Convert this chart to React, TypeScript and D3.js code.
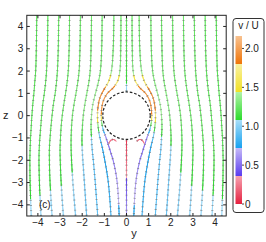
import React, { useEffect, useRef } from "react";
import * as d3 from "d3";

const W = 266;
const H = 242;
const X_TICKS = [-4, -3, -2, -1, 0, 1, 2, 3, 4];
const Z_TICKS = [-4, -3, -2, -1, 0, 1, 2, 3, 4];
const CB_TICKS = [0, 0.5, 1.0, 1.5, 2.0];
const CB_LABELS = ["0", "0.5", "1.0", "1.5", "2.0"];
const CB_MAX = 2.16;
const BAND_EDGES = [0, 0.36, 0.72, 1.08, 1.44, 1.8, 2.16];
const BAND_LOW = ["#e5203f", "#5a3cf0", "#18a2f0", "#2cdc2c", "#f2e024", "#f07408"];
const BAND_HIGH = ["#f6a2b0", "#c6baf6", "#a8def8", "#b2f2aa", "#f8f0a2", "#f8c290"];
const SPHERE_R = 1.07;

type P = [number, number, number]; // [y, z, v/U]

// streamlines right of the axis (mirrored to the left)
const LINE_1: P[] = [[0.25, 4.5, 1.25], [0.26, 3, 1.25], [0.3, 2, 1.35], [0.4, 1.55, 1.6], [0.6, 1.25, 1.85], [0.86, 1.0, 1.95], [1.05, 0.65, 2.0], [1.13, 0.2, 1.95], [1.13, -0.2, 1.5], [1.06, -0.6, 0.9], [0.92, -1.0, 0.55], [0.76, -1.5, 0.5], [0.58, -2.1, 0.55], [0.42, -3, 0.65], [0.33, -4.5, 0.75]];
const LINE_2: P[] = [[0.57, 4.5, 1.25], [0.6, 3, 1.25], [0.68, 2, 1.35], [0.8, 1.55, 1.6], [1.0, 1.2, 1.85], [1.2, 0.8, 1.95], [1.29, 0.35, 1.9], [1.31, 0, 1.7], [1.29, -0.4, 1.35], [1.22, -0.9, 0.95], [1.1, -1.4, 0.75], [0.98, -2, 0.72], [0.82, -3, 0.78], [0.7, -4.5, 0.85]];
const LINE_3: P[] = [[1.1, 4.5, 1.25], [1.12, 3, 1.25], [1.18, 2, 1.28], [1.27, 1.5, 1.33], [1.4, 1, 1.38], [1.52, 0.5, 1.42], [1.58, 0, 1.4], [1.6, -0.5, 1.25], [1.58, -1, 1.05], [1.55, -1.5, 0.95], [1.5, -2, 0.92], [1.41, -3, 0.9], [1.3, -4.5, 0.9]];
const LINE_4: P[] = [[1.58, 4.5, 1.25], [1.6, 3, 1.25], [1.64, 2, 1.27], [1.7, 1.5, 1.3], [1.79, 1, 1.33], [1.88, 0.5, 1.35], [1.95, 0, 1.33], [1.99, -0.5, 1.25], [2.01, -1, 1.15], [2.0, -1.5, 1.05], [1.97, -2, 1.0], [1.9, -3, 0.95], [1.8, -4.5, 0.92]];
const LINE_5: P[] = [[2.08, 4.5, 1.25], [2.1, 3, 1.25], [2.14, 2, 1.26], [2.2, 1.5, 1.28], [2.28, 1, 1.3], [2.37, 0.5, 1.3], [2.44, 0, 1.28], [2.48, -0.5, 1.25], [2.5, -1, 1.2], [2.5, -1.5, 1.16], [2.48, -2, 1.12], [2.42, -3, 1.05], [2.3, -4.5, 0.97]];
const LINE_6: P[] = [[2.57, 4.5, 1.25], [2.59, 3, 1.25], [2.63, 2, 1.25], [2.68, 1.5, 1.26], [2.75, 1, 1.27], [2.83, 0.5, 1.27], [2.9, 0, 1.26], [2.95, -0.5, 1.24], [2.98, -1, 1.22], [3.0, -1.5, 1.19], [2.99, -2, 1.16], [2.95, -3, 1.09], [2.85, -4.5, 1.0]];
const LINE_7: P[] = [[3.06, 4.5, 1.24], [3.08, 3, 1.24], [3.12, 2, 1.24], [3.16, 1.5, 1.25], [3.22, 1, 1.25], [3.3, 0.5, 1.26], [3.36, 0, 1.25], [3.41, -0.5, 1.24], [3.45, -1, 1.22], [3.48, -1.5, 1.2], [3.48, -2, 1.17], [3.45, -3, 1.1], [3.36, -4.5, 1.02]];
const LINE_8: P[] = [[3.55, 4.5, 1.22], [3.57, 3, 1.22], [3.61, 2, 1.22], [3.65, 1.5, 1.23], [3.71, 1, 1.24], [3.78, 0.5, 1.24], [3.83, 0, 1.24], [3.87, -0.5, 1.23], [3.91, -1, 1.22], [3.94, -1.5, 1.2], [3.95, -2, 1.18], [3.93, -3, 1.11], [3.86, -4.5, 1.03]];
const LINE_9: P[] = [[4.05, 4.5, 1.2], [4.07, 3, 1.2], [4.1, 2, 1.2], [4.14, 1.5, 1.21], [4.18, 1, 1.22], [4.23, 0.5, 1.22], [4.27, 0, 1.22], [4.3, -0.5, 1.22], [4.33, -1, 1.21], [4.35, -1.5, 1.2], [4.36, -2, 1.18], [4.35, -3, 1.12], [4.3, -4.5, 1.04]];
const RIGHT_LINES = [LINE_1, LINE_2, LINE_3, LINE_4, LINE_5, LINE_6, LINE_7, LINE_8, LINE_9];

const AXIS_TOP: P[] = [[0, 4.5, 1.22], [0, 3, 1.2], [0, 2, 1.15], [0, 1.5, 1.1], [0, 1.08, 1.0]];
const AXIS_BOTTOM: P[] = [[0, -1.08, 0.05], [0, -2, 0.2], [0, -3, 0.4], [0, -4.5, 0.65]];
const EDDY_LEFT: P[] = [[-0.8, -1.24, 0.25], [-0.7, -1.1, 0.2], [-0.58, -1.07, 0.2], [-0.47, -1.14, 0.25]];
const EDDY_RIGHT: P[] = [[0.47, -1.14, 0.25], [0.58, -1.07, 0.2], [0.7, -1.1, 0.2], [0.8, -1.24, 0.25]];

const FONT = "'Liberation Sans', Arial, sans-serif";

const x = d3.scaleLinear().domain([-4.5, 4.5]).range([26.8, 226.2]);
const y = d3.scaleLinear().domain([-4.5, 4.5]).range([216, 15.3]);
const cb = d3.scaleLinear().domain([0, CB_MAX]).range([204, 36]);

function colorOf(v: number): string {
  const i = Math.max(0, Math.min(5, Math.floor(v / 0.36)));
  const t = Math.max(0, Math.min(1, (v - BAND_EDGES[i]) / 0.36));
  return d3.interpolateRgb(BAND_LOW[i], BAND_HIGH[i])(t);
}

function StreamLayer() {
  const ref = useRef<SVGGElement>(null);
  useEffect(() => {
    const g = d3.select(ref.current);
    g.selectAll("*").remove();
    const lines: P[][] = [];
    RIGHT_LINES.forEach((l) => {
      lines.push(l);
      lines.push(l.map((p) => [-p[0], p[1], p[2]] as P));
    });
    lines.push(AXIS_TOP, AXIS_BOTTOM, EDDY_LEFT, EDDY_RIGHT);
    const gen = d3
      .line<P>()
      .x((p) => x(p[0]))
      .y((p) => y(p[1]))
      .curve(d3.curveCatmullRom.alpha(0.5));
    lines.forEach((pts) => {
      const d = gen(pts) as string;
      const path = g.append("path").attr("d", d).attr("fill", "none").attr("stroke", "none");
      const node = path.node() as SVGPathElement;
      const L = node.getTotalLength();
      const cum: number[] = [0];
      for (let i = 1; i < pts.length; i++) {
        const dx = x(pts[i][0]) - x(pts[i - 1][0]);
        const dy = y(pts[i][1]) - y(pts[i - 1][1]);
        cum.push(cum[i - 1] + Math.hypot(dx, dy));
      }
      const P = cum[cum.length - 1];
      const valAt = (s: number) => {
        const q = (s / L) * P;
        let k = 1;
        while (k < cum.length - 1 && cum[k] < q) k++;
        const t = (q - cum[k - 1]) / (cum[k] - cum[k - 1] || 1);
        return pts[k - 1][2] + (pts[k][2] - pts[k - 1][2]) * Math.max(0, Math.min(1, t));
      };
      const step = 1.5;
      const n = Math.max(2, Math.ceil(L / step));
      let prev = node.getPointAtLength(0);
      for (let i = 1; i <= n; i++) {
        const s = (i / n) * L;
        const pt = node.getPointAtLength(s);
        g.append("line")
          .attr("x1", prev.x)
          .attr("y1", prev.y)
          .attr("x2", pt.x)
          .attr("y2", pt.y)
          .attr("stroke", colorOf(valAt(s - L / n / 2)))
          .attr("stroke-width", 1.05)
          .attr("stroke-linecap", "round");
        prev = pt;
      }
      g.append("path")
        .attr("d", d)
        .attr("fill", "none")
        .attr("stroke", "#6e6e6e")
        .attr("stroke-opacity", 0.7)
        .attr("stroke-width", 2.2)
        .attr("stroke-dasharray", "0.8 4.2");
    });
  }, []);
  return <g ref={ref} clipPath="url(#plotclip)" />;
}

export default function App() {
  const [x0, x1] = x.range();
  const [yb, yt] = y.range();
  return (
    <svg width={W} height={H} style={{ display: "block", position: "absolute", left: 0, top: 0 }} fontFamily={FONT}>
      <defs>
        <clipPath id="plotclip">
          <rect x={x0} y={yt} width={x1 - x0} height={yb - yt} />
        </clipPath>
        {BAND_LOW.map((c, i) => (
          <linearGradient key={i} id={`band${i}`} x1="0" y1="1" x2="0" y2="0">
            <stop offset="0" stopColor={c} />
            <stop offset="1" stopColor={BAND_HIGH[i]} />
          </linearGradient>
        ))}
      </defs>
      <rect x={0} y={0} width={W} height={H} fill="#fff" />
      <StreamLayer />
      <circle cx={x(0)} cy={y(0)} r={x(SPHERE_R) - x(0)} fill="#fff" stroke="#222" strokeWidth={1.2} strokeDasharray="2.6 1.8" />
      <rect x={x0} y={yt} width={x1 - x0} height={yb - yt} fill="none" stroke="#222" strokeWidth={1} />
      {X_TICKS.map((t) => (
        <g key={`x${t}`}>
          <line x1={x(t)} x2={x(t)} y1={yb} y2={yb - 3} stroke="#222" />
          <line x1={x(t)} x2={x(t)} y1={yt} y2={yt + 3} stroke="#222" />
          <text x={x(t)} y={yb + 9.5} fontSize={10} textAnchor="middle" fill="#222">
            {t < 0 ? `\u2212${-t}` : `${t}`}
          </text>
        </g>
      ))}
      {Z_TICKS.map((t) => (
        <g key={`z${t}`}>
          <line x1={x0} x2={x0 + 3} y1={y(t)} y2={y(t)} stroke="#222" />
          <line x1={x1} x2={x1 - 3} y1={y(t)} y2={y(t)} stroke="#222" />
          <text x={x0 - 3.5} y={y(t) + 3.5} fontSize={10} textAnchor="end" fill="#222">
            {t < 0 ? `\u2212${-t}` : `${t}`}
          </text>
        </g>
      ))}
      <text x={3} y={119} fontSize={11} fill="#222">z</text>
      <text x={134} y={237} fontSize={11} textAnchor="middle" fill="#222">y</text>
      <text x={39} y={208} fontSize={10} fill="#222">(c)</text>
      {/* colour bar */}
      <rect x={233} y={18.5} width={31} height={194} rx={3} fill="#fff" stroke="#333" strokeWidth={1} />
      <text x={248.5} y={28.5} fontSize={10} textAnchor="middle" fill="#222">v / U</text>
      {BAND_LOW.map((c, i) => (
        <rect key={i} x={235.5} y={cb(BAND_EDGES[i + 1])} width={6.5} height={cb(BAND_EDGES[i]) - cb(BAND_EDGES[i + 1])} fill={`url(#band${i})`} />
      ))}
      {CB_TICKS.map((t, i) => (
        <g key={`c${t}`}>
          <line x1={242} x2={244} y1={cb(t)} y2={cb(t)} stroke="#444" />
          <text x={245} y={cb(t) + 3.5} fontSize={10} fill="#222">{CB_LABELS[i]}</text>
        </g>
      ))}
    </svg>
  );
}
